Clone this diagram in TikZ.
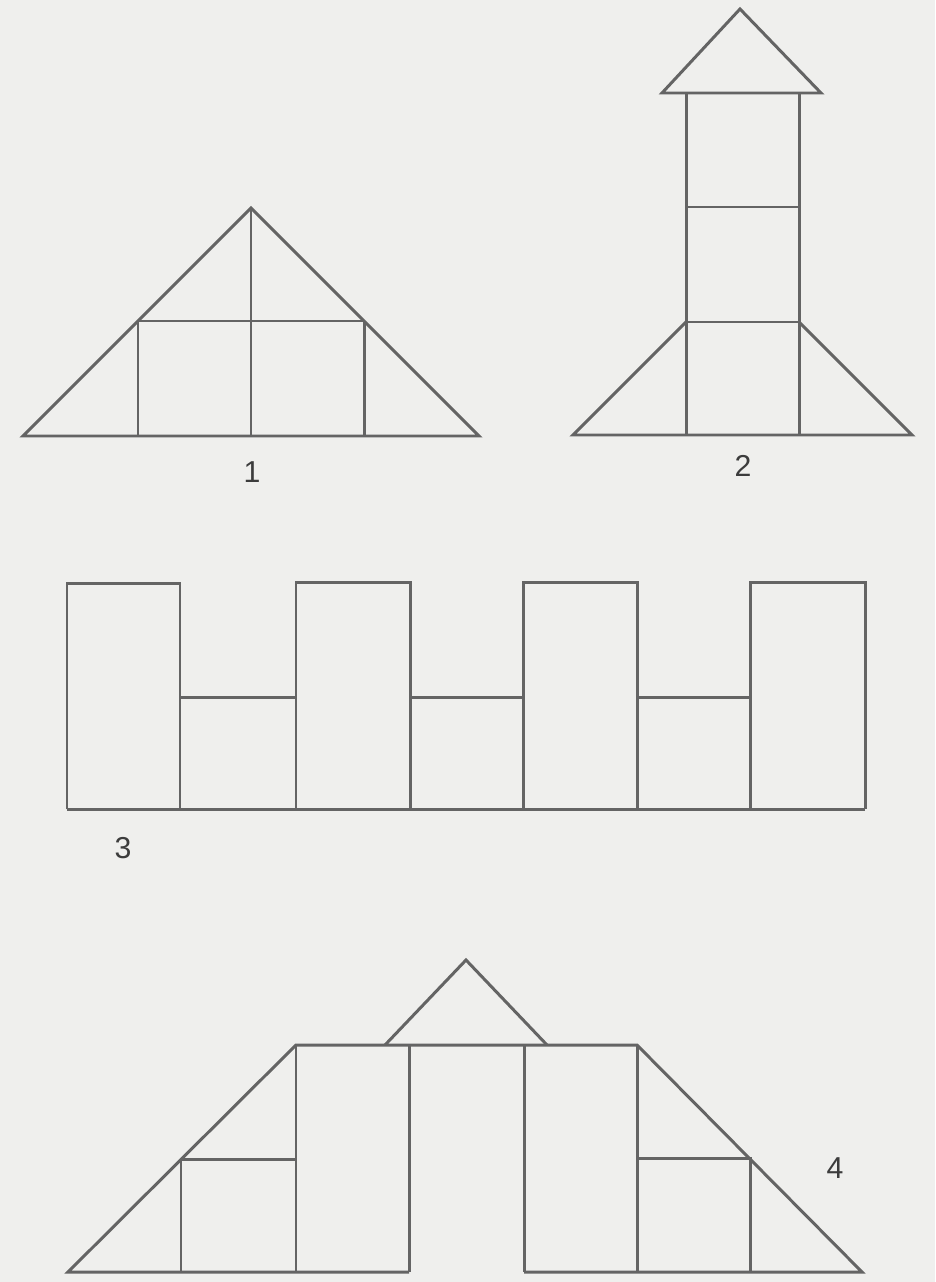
\documentclass[tikz,border=0pt]{standalone}
\usepackage{fontspec}
\setmainfont{Liberation Sans}
\definecolor{paper}{RGB}{239,239,237}
\definecolor{ink}{RGB}{100,100,100}
\definecolor{labelink}{RGB}{60,60,60}
\tikzset{
  figline/.style={draw=ink, line width=0.85pt, line join=miter, line cap=butt},
  figlabel/.style={text=labelink, font=\fontsize{8.6}{10}\selectfont, inner sep=0pt}
}
\begin{document}
\begin{tikzpicture}[x=0.01cm, y=-0.01cm]
\fill[paper] (0,0) rectangle (935,1282);
\useasboundingbox (0,0) rectangle (935,1282);

% ---------- Figure 1 ----------
\draw[figline] (23,436) -- (251,208) -- (479,436) -- cycle;
\draw[figline] (251,208) -- (251,436);
\draw[figline] (138,321) -- (364,321);
\draw[figline] (138,321) -- (138,436);
\draw[figline] (364,321) -- (364,436);
\node[figlabel] (l1) at (252,472) {1};

% ---------- Figure 2 ----------
\draw[figline] (662,93) -- (740,9) -- (821,93) -- cycle;
\draw[figline] (686,93) -- (686,435);
\draw[figline] (799,93) -- (799,435);
\draw[figline] (686,207) -- (799,207);
\draw[figline] (686,322) -- (799,322);
\draw[figline] (686,322) -- (573,435) -- (912,435) -- (799,322);
\node[figlabel] (l2) at (743,466) {2};

% ---------- Figure 3 ----------
\draw[figline] (67,809) -- (865,809);
\draw[figline] (67,809) -- (67,583) -- (180,583) -- (180,809);
\draw[figline] (296,809) -- (296,582) -- (410,582) -- (410,809);
\draw[figline] (523,809) -- (523,582) -- (637,582) -- (637,809);
\draw[figline] (750,809) -- (750,582) -- (865,582) -- (865,809);
\draw[figline] (180,697) -- (296,697);
\draw[figline] (410,697) -- (523,697);
\draw[figline] (637,697) -- (750,697);
\node[figlabel] (l3) at (123,848) {3};

% ---------- Figure 4 ----------
\draw[figline] (385,1045) -- (466,960) -- (547,1045);
\draw[figline] (409,1272) -- (68,1272) -- (296,1045) -- (637,1045) -- (862,1272) -- (524,1272);
\draw[figline] (296,1045) -- (296,1272);
\draw[figline] (409,1045) -- (409,1272);
\draw[figline] (524,1045) -- (524,1272);
\draw[figline] (637,1045) -- (637,1272);
\draw[figline] (181,1272) -- (181,1159) -- (296,1159);
\draw[figline] (750,1272) -- (750,1158) -- (637,1158);
\node[figlabel] (l4) at (835,1168) {4};
\end{tikzpicture}
\end{document}
